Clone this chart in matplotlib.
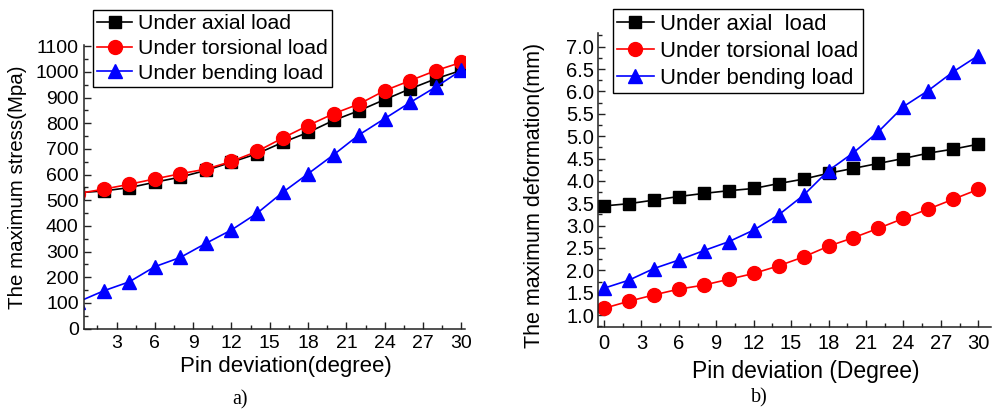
import matplotlib
matplotlib.use('Agg')
import matplotlib.pyplot as plt
from matplotlib.ticker import MultipleLocator, FormatStrFormatter

plt.rcParams['font.family'] = ['Liberation Sans', 'DejaVu Sans']

# ---- data: panel a) ----
deg_a = [0, 2, 4, 6, 8, 10, 12, 14, 16, 18, 20, 22, 24, 26, 28, 30]
axial_stress = [529, 536, 549, 570, 590, 616, 648, 681, 725, 764, 811, 849, 892, 934, 973, 1006]
torsional_stress = [526, 543, 562, 583, 603, 621, 651, 690, 742, 791, 837, 875, 927, 966, 1005, 1037]
bending_stress = [104, 147, 182, 241, 277, 332, 384, 449, 530, 603, 677, 755, 818, 881, 941, 1006]
labels_a = ['Under axial load', 'Under torsional load', 'Under bending load']

# ---- data: panel b) ----
deg_b = [0, 2, 4, 6, 8, 10, 12, 14, 16, 18, 20, 22, 24, 26, 28, 30]
axial_def = [3.44, 3.49, 3.57, 3.65, 3.72, 3.78, 3.83, 3.94, 4.04, 4.17, 4.28, 4.39, 4.50, 4.62, 4.71, 4.82]
torsional_def = [1.15, 1.31, 1.45, 1.58, 1.67, 1.80, 1.93, 2.10, 2.30, 2.54, 2.73, 2.94, 3.16, 3.37, 3.59, 3.81]
bending_def = [1.60, 1.78, 2.04, 2.23, 2.44, 2.64, 2.90, 3.24, 3.68, 4.23, 4.63, 5.10, 5.66, 6.02, 6.44, 6.80]
labels_b = ['Under axial  load', 'Under torsional load', 'Under bending load']

fig = plt.figure(figsize=(9.96, 4.11), dpi=100)
ax1 = fig.add_axes([0.0846, 0.2007, 0.382, 0.690])
ax2 = fig.add_axes([0.6001, 0.2051, 0.3946, 0.714])

styles = [dict(color='black', marker='s', ms=9),
          dict(color='red', marker='o', ms=10),
          dict(color='blue', marker='^', ms=10.5)]

def style_axes(ax, tsize, ypad):
    for s in ['top', 'right']:
        ax.spines[s].set_visible(False)
    for s in ['left', 'bottom']:
        ax.spines[s].set_linewidth(1.1)
        ax.spines[s].set_color('#222222')
    ax.tick_params(which='both', direction='in', width=1.0, colors='#222222', labelcolor='black')
    ax.tick_params(which='major', length=4.8, labelsize=tsize)
    ax.tick_params(which='minor', length=2.6)
    ax.tick_params(axis='x', pad=5)
    ax.tick_params(axis='y', pad=ypad)

lines1 = []
for ys, st, lb in zip([axial_stress, torsional_stress, bending_stress], styles, labels_a):
    l, = ax1.plot(deg_a, ys, lw=1.2, label=lb, **st)
    lines1.append(l)
ax1.set_xlim(0.47, 30.27)
ax1.set_ylim(0, 1105)
ax1.xaxis.set_major_locator(MultipleLocator(3))
ax1.xaxis.set_minor_locator(MultipleLocator(1.5))
ax1.yaxis.set_major_locator(MultipleLocator(100))
ax1.yaxis.set_minor_locator(MultipleLocator(50))
style_axes(ax1, 14, 4)

lines2 = []
for ys, st, lb in zip([axial_def, torsional_def, bending_def], styles, labels_b):
    l, = ax2.plot(deg_b, ys, lw=1.2, label=lb, **st)
    lines2.append(l)
ax2.set_xlim(-0.5, 31.0)
ax2.set_ylim(0.74, 7.3)
ax2.xaxis.set_major_locator(MultipleLocator(3))
ax2.xaxis.set_minor_locator(MultipleLocator(1.5))
ax2.yaxis.set_major_locator(MultipleLocator(0.5))
ax2.yaxis.set_minor_locator(MultipleLocator(0.25))
ax2.yaxis.set_major_formatter(FormatStrFormatter('%.1f'))
style_axes(ax2, 14.5, 2.5)

leg_kw = dict(loc='upper left', frameon=True, fancybox=False,
              edgecolor='black', framealpha=1, borderpad=0.2, labelspacing=0.27,
              handlelength=1.65, handletextpad=0.3, borderaxespad=0)
lg1 = fig.legend(handles=lines1, bbox_to_anchor=(0.0931, 0.9757), fontsize=15.3, **leg_kw)
lg2 = fig.legend(handles=lines2, bbox_to_anchor=(0.6152, 0.9774), fontsize=15.9, **leg_kw)
for lg in (lg1, lg2):
    lg.get_frame().set_linewidth(1.0)

fig.text(0.0176, 0.545, 'The maximum stress(Mpa)', rotation=90, ha='center', va='center', fontsize=14.8)
fig.text(0.537, 0.5255, 'The maximum deformation(mm)', rotation=90, ha='center', va='center', fontsize=15.5)
fig.text(0.287, 0.1078, 'Pin deviation(degree)', ha='center', va='center', fontsize=16)
fig.text(0.809, 0.0956, 'Pin deviation (Degree)', ha='center', va='center', fontsize=16.5)
fig.text(0.241, 0.027, 'a)', ha='center', va='center', fontsize=14.5, family=['Liberation Serif'])
fig.text(0.762, 0.031, 'b)', ha='center', va='center', fontsize=14.5, family=['Liberation Serif'])

fig.savefig('out.png', dpi=100)
